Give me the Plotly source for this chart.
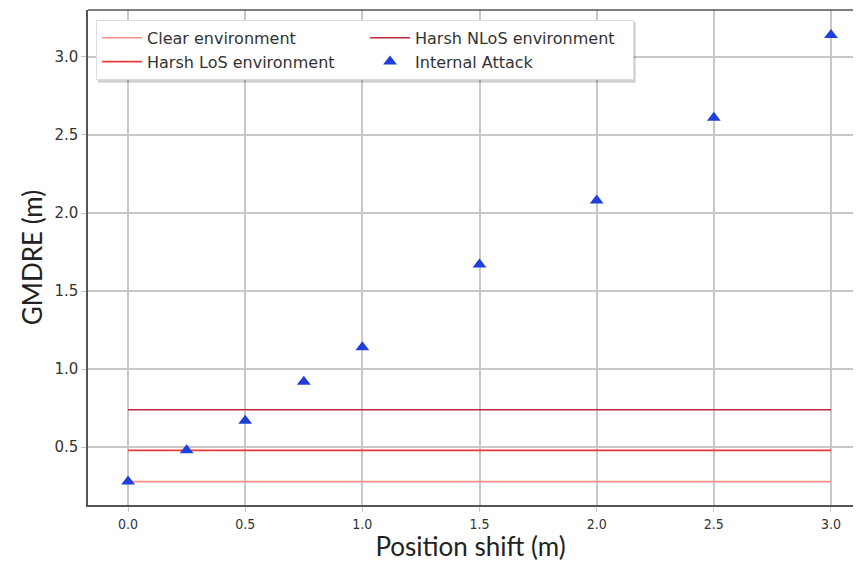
import plotly.graph_objects as go

# position shift (m) and measured GMDRE (m)
shift = [0.0, 0.25, 0.5, 0.75, 1.0, 1.5, 2.0, 2.5, 3.0]
gmdre_attack = [0.28, 0.48, 0.67, 0.92, 1.14, 1.67, 2.08, 2.61, 3.14]

# environment baselines
env_x = [0.0, 3.0]
clear_env = [0.28, 0.28]
los_env = [0.48, 0.48]
nlos_env = [0.74, 0.74]

fig = go.Figure()

fig.add_trace(go.Scatter(x=env_x, y=clear_env, mode="lines", name="Clear environment",
                         line=dict(color="#ff8f85", width=1.6), legendrank=1))
fig.add_trace(go.Scatter(x=env_x, y=nlos_env, mode="lines", name="Harsh NLoS environment",
                         line=dict(color="#c0283a", width=1.6), legendrank=2))
fig.add_trace(go.Scatter(x=env_x, y=los_env, mode="lines", name="Harsh LoS environment",
                         line=dict(color="#ee3b33", width=1.6), legendrank=3))
fig.add_trace(go.Scatter(x=shift, y=gmdre_attack, mode="markers", name="Internal Attack",
                         marker=dict(symbol="triangle-up", size=12, color="#1f3fd8",
                                     line=dict(color="#1f3fd8", width=0)),
                         legendrank=4))

# top frame line only (the right side of the frame is cut off in the original)
fig.add_shape(type="line", xref="paper", yref="paper", x0=0, x1=1, y0=1, y1=1,
              line=dict(color="#555555", width=1.5), layer="above")

# legend drop shadow (paper coords)
fig.add_shape(type="rect", xref="paper", yref="paper",
              x0=0.013, x1=0.716, y0=0.853, y1=0.976,
              fillcolor="rgba(0,0,0,0.18)", line=dict(width=0), layer="above")

# page body adds an 8px margin, so the figure is sized to fit inside the window
fig.update_layout(
    width=845,
    height=554,
    template="plotly_white",
    plot_bgcolor="white",
    margin=dict(l=80, r=0, t=2, b=57),
    font=dict(family="DejaVu Sans", size=14, color="#333333"),
    showlegend=True,
    legend=dict(
        orientation="h",
        x=0.0105, y=0.98, xanchor="left", yanchor="top",
        entrywidth=213, entrywidthmode="pixels",
        bgcolor="white", bordercolor="#dddddd", borderwidth=1,
        font=dict(family="DejaVu Sans", size=16, color="#333333"),
        tracegroupgap=0, itemwidth=40,
    ),
)

fig.update_xaxes(
    range=[-0.171, 3.094],
    tickvals=[0, 0.5, 1.0, 1.5, 2.0, 2.5, 3.0],
    ticktext=["0.0", "0.5", "1.0", "1.5", "2.0", "2.5", "3.0"],
    showgrid=True, gridcolor="#c8c8c8", gridwidth=1.6,
    zeroline=False, automargin=False,
    showline=True, linecolor="#555555", linewidth=1.5, mirror=False,
    ticks="outside", ticklen=5, tickcolor="#c8c8c8",
    tickfont=dict(size=14, family="DejaVu Sans Condensed"),
    title=dict(text="Position shift (m)", font=dict(size=26, family="Lato", color="#222222"),
               standoff=4),
)
fig.update_yaxes(
    range=[0.13, 3.30],
    tickvals=[0.5, 1.0, 1.5, 2.0, 2.5, 3.0],
    ticktext=["0.5", "1.0", "1.5", "2.0", "2.5", "3.0"],
    showgrid=True, gridcolor="#c8c8c8", gridwidth=1.6,
    zeroline=False, automargin=False,
    showline=True, linecolor="#555555", linewidth=1.5, mirror=False,
    ticks="outside", ticklen=5, tickcolor="#c8c8c8",
    tickfont=dict(size=15, family="DejaVu Sans"),
    title=dict(text="GMDRE (m)", font=dict(size=26, family="Lato", color="#222222"),
               standoff=4),
)

fig.write_html("out.html")
